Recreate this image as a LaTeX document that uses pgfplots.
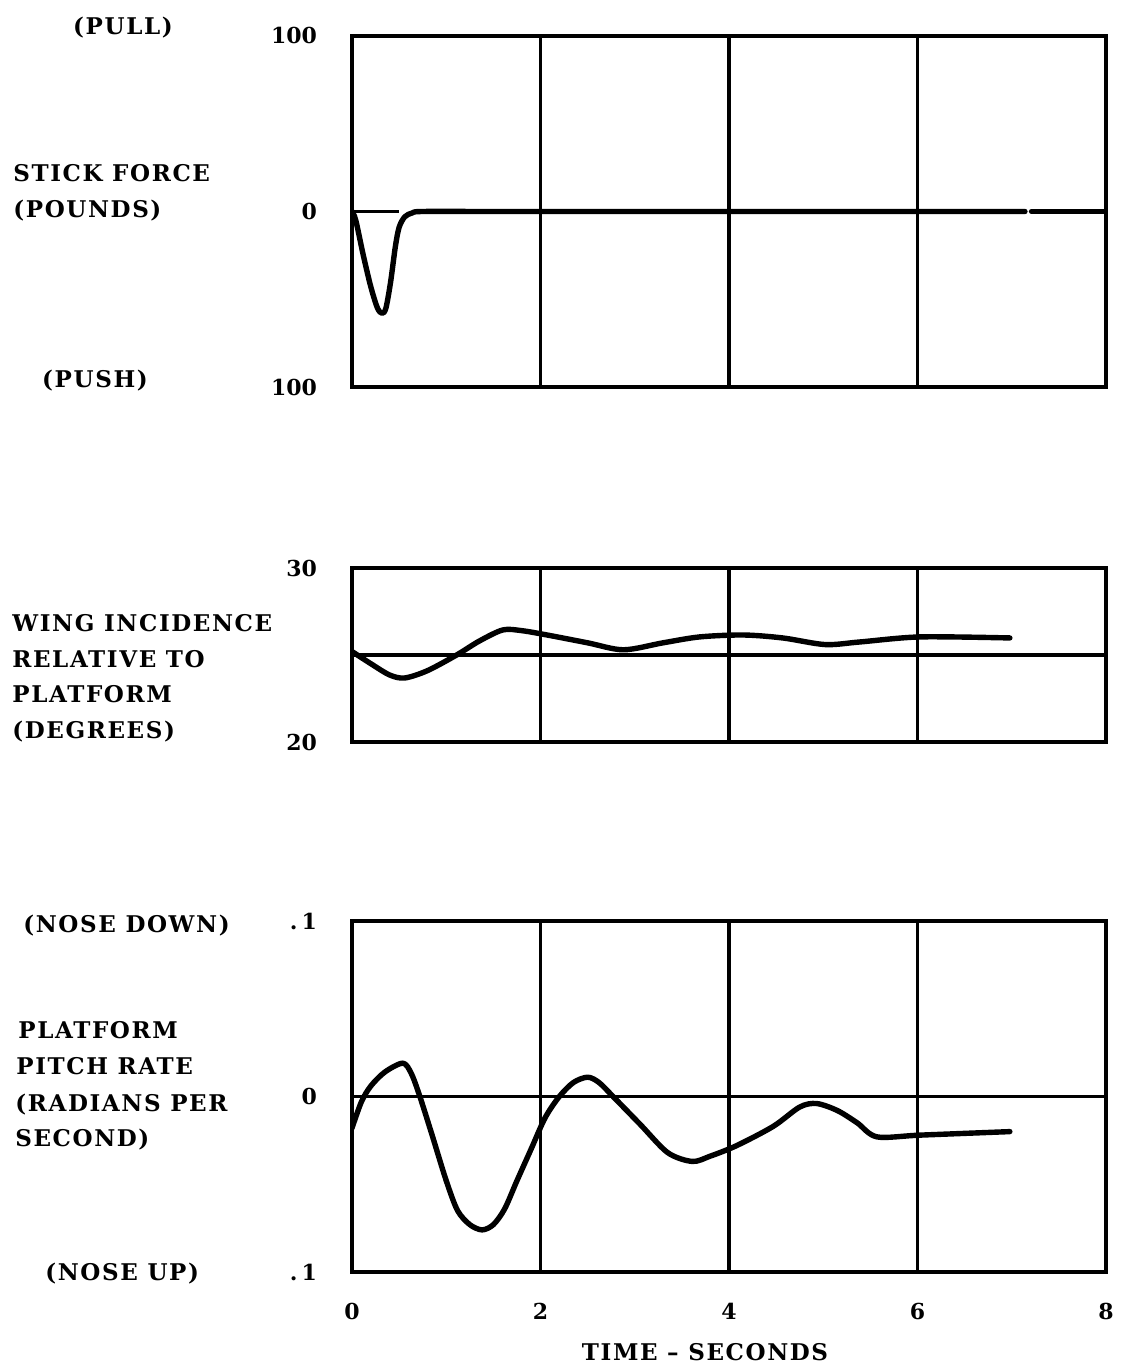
\documentclass[border=0pt]{standalone}
\usepackage{fontspec}
\setmainfont{DejaVu Serif}
\newfontfamily\labfont{DejaVu Serif}[LetterSpace=7]
\usepackage{pgfplots}
\pgfplotsset{compat=1.18}

\pgfplotsset{
  panel/.style={
    scale only axis, width=377pt,
    xmin=0, xmax=8, xtick={0,2,4,6,8},
    xmajorgrids,
    major grid style={black, line width=1.8pt},
    axis line style={line width=2.2pt},
    major tick length=0pt,
    tick label style={font=\bfseries\fontsize{11}{13}\selectfont},
    yticklabel style={xshift=-14pt},
    /pgf/number format/assume math mode=true,
  },
  trace/.style={black, line width=2.7pt, smooth, tension=0.5,
    line join=round, line cap=round, mark=none},
}
\newcommand\lab{\labfont\bfseries\fontsize{11.5}{13}\selectfont}

\begin{document}
\begin{tikzpicture}
\path[use as bounding box] (0,0) rectangle (561pt,-684pt);

% stick force
\begin{axis}[panel, at={(176pt,-18pt)}, anchor=north west, height=175.5pt,
  ymin=-100, ymax=100, ytick={-100,0,100}, yticklabels={100,0,100},
  xticklabels={}]
  \addplot[black, line width=1.5pt] coordinates {(0,0) (0.5,0)};
  \addplot[trace] coordinates {
    (0,0) (0.04,-5) (0.12,-25) (0.2,-43) (0.27,-55) (0.32,-58) (0.36,-55)
    (0.41,-40) (0.46,-20) (0.5,-9) (0.56,-3) (0.64,-0.8) (0.75,0)
    (1.5,0) (3,0) (5,0) (7.14,0)
  };
  \addplot[trace] coordinates {(7.21,0) (8,0)};
\end{axis}

% wing incidence
\begin{axis}[panel, at={(176pt,-284pt)}, anchor=north west, height=87pt,
  ymin=20, ymax=30, ytick={20,25,30}, yticklabels={20,,30},
  ymajorgrids, xticklabels={}]
  \addplot[trace] coordinates {
    (0,25.2) (0.2,24.5) (0.4,23.85) (0.56,23.68) (0.8,24.1) (1.11,25)
    (1.35,25.8) (1.6,26.44) (1.8,26.4) (2.07,26.15) (2.5,25.7) (2.88,25.3)
    (3.3,25.7) (3.69,26.04) (4.15,26.15) (4.57,25.98) (5.02,25.6)
    (5.39,25.75) (6.03,26.04) (6.98,25.98)
  };
\end{axis}

% pitch rate
\begin{axis}[panel, at={(176pt,-460.5pt)}, anchor=north west, height=175.5pt,
  ymin=-0.1, ymax=0.1, ytick={-0.1,0,0.1},
  yticklabels={{.\kern2pt1},0,{.\kern2pt1}},
  ymajorgrids, xticklabel style={yshift=-12pt}]
  \addplot[trace] coordinates {
    (0,-0.018) (0.1,-0.003) (0.2,0.006) (0.35,0.014) (0.54,0.019)
    (0.63,0.013) (0.72,0) (0.85,-0.022) (1.0,-0.048) (1.12,-0.065)
    (1.25,-0.073) (1.38,-0.076) (1.5,-0.073) (1.62,-0.064) (1.75,-0.048)
    (1.9,-0.03) (2.05,-0.012) (2.2,0) (2.35,0.008) (2.5,0.011)
    (2.62,0.008) (2.77,0) (3.06,-0.016) (3.35,-0.032) (3.61,-0.037)
    (3.8,-0.034) (4.08,-0.028) (4.47,-0.017) (4.75,-0.006) (4.93,-0.004)
    (5.15,-0.008) (5.36,-0.015) (5.57,-0.023) (6.03,-0.022) (6.98,-0.020)
  };
\end{axis}

% left labels
\node[anchor=base] at (61.5pt,-17.5pt) {\lab (PULL)};
\node[anchor=base west, inner sep=0pt] at (6.5pt,-91pt) {\lab STICK FORCE};
\node[anchor=base west, inner sep=0pt] at (6.5pt,-109pt) {\lab (POUNDS)};
\node[anchor=base] at (47.5pt,-194pt) {\lab (PUSH)};

\node[anchor=base west, inner sep=0pt] at (6pt,-315.5pt) {\lab WING INCIDENCE};
\node[anchor=base west, inner sep=0pt] at (6pt,-333.5pt) {\lab RELATIVE TO};
\node[anchor=base west, inner sep=0pt] at (6pt,-351pt) {\lab PLATFORM};
\node[anchor=base west, inner sep=0pt] at (6pt,-369pt) {\lab (DEGREES)};

\node[anchor=base west, inner sep=0pt] at (11.5pt,-466pt) {\lab (NOSE DOWN)};
\node[anchor=base west, inner sep=0pt] at (9pt,-519pt) {\lab PLATFORM};
\node[anchor=base west, inner sep=0pt] at (8pt,-537pt) {\lab PITCH RATE};
\node[anchor=base west, inner sep=0pt] at (7.5pt,-555.5pt) {\lab (RADIANS PER};
\node[anchor=base west, inner sep=0pt] at (7.5pt,-573pt) {\lab SECOND)};
\node[anchor=base west, inner sep=0pt] at (22.5pt,-640pt) {\lab (NOSE UP)};

\node at (352.5pt,-676pt) {\lab TIME – SECONDS};
\end{tikzpicture}
\end{document}
